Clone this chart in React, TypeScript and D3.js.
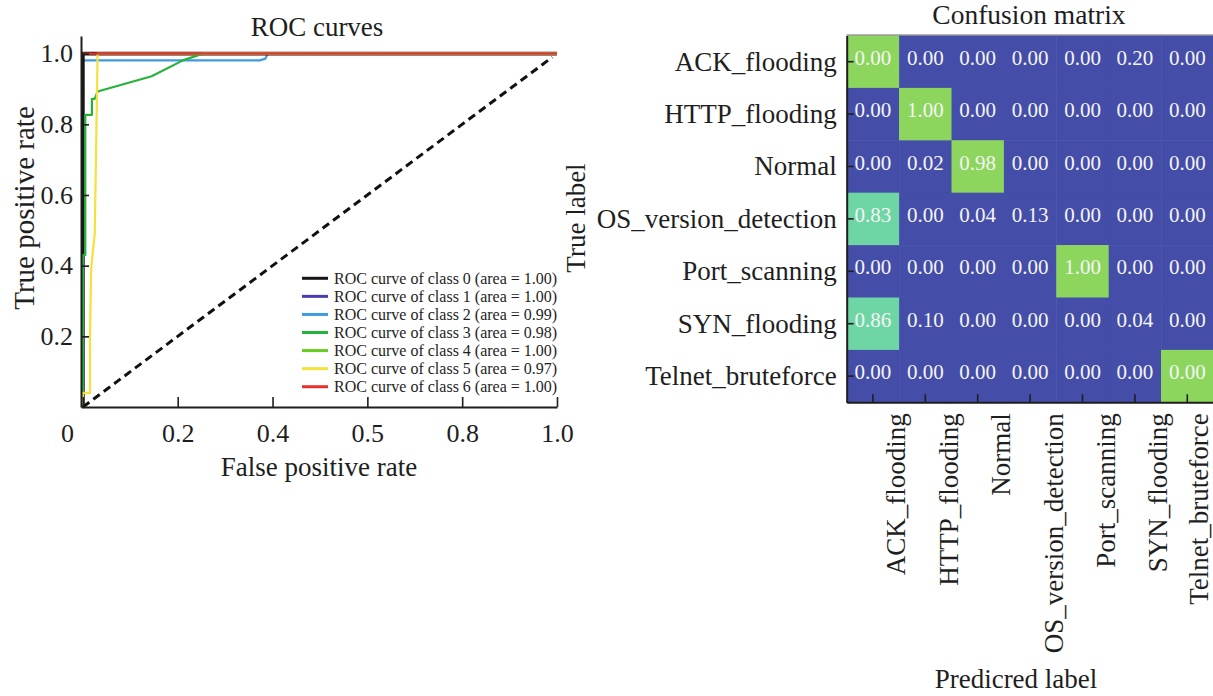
import React, { useEffect, useRef } from "react";
import * as d3 from "d3";

// ROC data: [false positive rate, true positive rate]
const rocClass0 = [[0, 0], [0, 1], [1, 1]];
const rocClass1 = [[0, 0], [0, 1], [1, 1]];
const rocClass2 = [[0, 0], [0, 0.981], [0.373, 0.981], [0.385, 0.986], [0.39, 1], [1, 1]];
const rocClass3 = [
  [0, 0], [0, 0.43], [0.005, 0.43], [0.005, 0.827], [0.019, 0.827], [0.019, 0.872],
  [0.025, 0.872], [0.031, 0.893], [0.145, 0.936], [0.211, 0.981], [0.253, 1], [1, 1]
];
const rocClass4 = [[0, 0], [0, 1], [1, 1]];
const rocClass5 = [
  [0, 0], [0, 0.04], [0.015, 0.04], [0.015, 0.2], [0.017, 0.36], [0.018, 0.4],
  [0.025, 0.49], [0.031, 1], [1, 1]
];
const rocClass6 = [[0, 1], [1, 1]];
const rocCurves = [rocClass0, rocClass1, rocClass2, rocClass3, rocClass4, rocClass5, rocClass6];
const rocAreas = ["1.00", "1.00", "0.99", "0.98", "1.00", "0.97", "1.00"];
const rocColors = ["#151515", "#4a3cb2", "#3e9be0", "#27b23c", "#66cc22", "#f2e23a", "#e8302c"];
const rocDrawOrder = [1, 4, 2, 0, 3, 5, 6];

const rocXTicks = [0, 0.2, 0.4, 0.6, 0.8, 1.0];
const rocXTickLabels = ["0", "0.2", "0.4", "0.5", "0.8", "1.0"];
const rocYTicks = [0.2, 0.4, 0.6, 0.8, 1.0];
const rocYTickLabels = ["0.2", "0.4", "0.6", "0.8", "1.0"];

// confusion matrix
const cmLabels = [
  "ACK_flooding", "HTTP_flooding", "Normal", "OS_version_detection",
  "Port_scanning", "SYN_flooding", "Telnet_bruteforce"
];
const cmValues = [
  [0.0, 0.0, 0.0, 0.0, 0.0, 0.2, 0.0],
  [0.0, 1.0, 0.0, 0.0, 0.0, 0.0, 0.0],
  [0.0, 0.02, 0.98, 0.0, 0.0, 0.0, 0.0],
  [0.83, 0.0, 0.04, 0.13, 0.0, 0.0, 0.0],
  [0.0, 0.0, 0.0, 0.0, 1.0, 0.0, 0.0],
  [0.86, 0.1, 0.0, 0.0, 0.0, 0.04, 0.0],
  [0.0, 0.0, 0.0, 0.0, 0.0, 0.0, 0.0]
];
// value the cell colour was drawn from (differs from the printed text on two cells)
const cmShade = [
  [1.0, 0.0, 0.0, 0.0, 0.0, 0.2, 0.0],
  [0.0, 1.0, 0.0, 0.0, 0.0, 0.0, 0.0],
  [0.0, 0.02, 0.98, 0.0, 0.0, 0.0, 0.0],
  [0.83, 0.0, 0.04, 0.13, 0.0, 0.0, 0.0],
  [0.0, 0.0, 0.0, 0.0, 1.0, 0.0, 0.0],
  [0.86, 0.1, 0.0, 0.0, 0.0, 0.04, 0.0],
  [0.0, 0.0, 0.0, 0.0, 0.0, 0.0, 1.0]
];

const W = 1213;
const H = 696;
const FONT = "'Liberation Serif', 'Times New Roman', serif";
const INK = "#1e1e1e";
const FS = 27;

function styleAxis(g: any, size: number) {
  g.attr("font-family", FONT).attr("font-size", size);
  g.select(".domain").attr("stroke", INK).attr("stroke-width", 2);
  g.selectAll(".tick line").attr("stroke", INK).attr("stroke-width", 1.6);
  g.selectAll(".tick text").attr("fill", INK);
}

export default function App() {
  const ref = useRef<SVGSVGElement>(null);

  useEffect(() => {
    const svg = d3.select(ref.current);
    svg.selectAll("*").remove();

    // ---------- ROC curves ----------
    const x = d3.scaleLinear().domain([-0.004, 1]).range([81, 557]);
    const y = d3.scaleLinear().domain([0, 1.05]).range([407, 36]);
    const line = d3
      .line<number[]>()
      .x(d => x(d[0]))
      .y(d => y(d[1]));

    const roc = svg.append("g");

    rocDrawOrder.forEach(i => {
      roc
        .append("path")
        .datum(rocCurves[i])
        .attr("d", line)
        .attr("fill", "none")
        .attr("stroke", rocColors[i])
        .attr("stroke-width", i === 0 ? 3.6 : 2.2)
        .attr("stroke-linejoin", "round");
    });

    roc
      .append("path")
      .datum([[0, 0], [0.99, 0.99]])
      .attr("d", line)
      .attr("fill", "none")
      .attr("stroke", "#111")
      .attr("stroke-width", 3)
      .attr("stroke-dasharray", "8,5");

    const gx = roc
      .append("g")
      .attr("transform", `translate(0,${y(0)})`)
      .call(
        d3
          .axisBottom(x)
          .tickValues(rocXTicks)
          .tickFormat((d, i) => rocXTickLabels[i])
          .tickSizeInner(-10)
          .tickSizeOuter(0)
      );
    styleAxis(gx, 26);
    gx.selectAll(".tick text")
      .attr("y", 35)
      .attr("dy", 0)
      .attr("dx", (d: any, i: number) => (i === 0 ? -16 : 0));

    const gy = roc
      .append("g")
      .attr("transform", "translate(81,0)")
      .call(
        d3
          .axisLeft(y)
          .tickValues(rocYTicks)
          .tickFormat((d, i) => rocYTickLabels[i])
          .tickSizeInner(-8)
          .tickSizeOuter(0)
          .tickPadding(8)
      );
    styleAxis(gy, 26);

    roc
      .append("text")
      .attr("x", 317)
      .attr("y", 36)
      .attr("text-anchor", "middle")
      .attr("font-family", FONT)
      .attr("font-size", FS)
      .attr("fill", INK)
      .text("ROC curves");

    roc
      .append("text")
      .attr("x", 319)
      .attr("y", 476)
      .attr("text-anchor", "middle")
      .attr("font-family", FONT)
      .attr("font-size", FS)
      .attr("fill", INK)
      .text("False positive rate");

    roc
      .append("text")
      .attr("transform", "translate(24,208) rotate(-90)")
      .attr("dy", "0.35em")
      .attr("text-anchor", "middle")
      .attr("font-family", FONT)
      .attr("font-size", 29)
      .attr("fill", INK)
      .text("True positive rate");

    // legend
    const legend = roc.append("g");
    rocCurves.forEach((c, i) => {
      const ly = 278.3 + i * 18.07;
      legend
        .append("line")
        .attr("x1", 302)
        .attr("x2", 328)
        .attr("y1", ly)
        .attr("y2", ly)
        .attr("stroke", rocColors[i])
        .attr("stroke-width", 3);
      legend
        .append("text")
        .attr("x", 334)
        .attr("y", ly + 5.5)
        .attr("font-family", FONT)
        .attr("font-size", 16)
        .attr("fill", INK)
        .text(`ROC curve of class ${i} (area = ${rocAreas[i]})`);
    });

    // ---------- Confusion matrix ----------
    const cx = d3.scaleBand().domain(cmLabels).range([846.7, 1213.5]);
    const cy = d3.scaleBand().domain(cmLabels).range([35.5, 402.3]);
    const color = d3
      .scaleThreshold<number, string>()
      .domain([0.5, 0.95])
      .range(["#444ea8", "#6ed6a5", "#8dd65e"]);

    const cm = svg.append("g");

    cmLabels.forEach((rowName, r) => {
      cmLabels.forEach((colName, c) => {
        cm.append("rect")
          .attr("x", cx(colName))
          .attr("y", cy(rowName))
          .attr("width", cx.bandwidth() + 0.5)
          .attr("height", cy.bandwidth() + 0.5)
          .attr("fill", color(cmShade[r][c]));
        cm.append("text")
          .attr("x", cx(colName) + cx.bandwidth() / 2)
          .attr("y", cy(rowName) + cy.bandwidth() / 2 + 3)
          .attr("text-anchor", "middle")
          .attr("font-family", FONT)
          .attr("font-size", 21)
          .attr("fill", "#f4f4f4")
          .text(cmValues[r][c].toFixed(2));
      });
    });

    cm.append("line")
      .attr("x1", 846.7)
      .attr("x2", W)
      .attr("y1", 35)
      .attr("y2", 35)
      .attr("stroke", "#666")
      .attr("stroke-width", 1);

    const cgy = cm
      .append("g")
      .attr("transform", "translate(846.7,0)")
      .call(d3.axisLeft(cy).tickSizeInner(-7).tickSizeOuter(0).tickPadding(10));
    styleAxis(cgy, FS);
    cgy.selectAll(".tick text").attr("dy", "0.33em");

    const cgx = cm
      .append("g")
      .attr("transform", "translate(0,402.3)")
      .call(d3.axisBottom(cx).tickSizeInner(-8).tickSizeOuter(0));
    styleAxis(cgx, FS);
    cgx.selectAll(".tick text")
      .attr("x", 0)
      .attr("y", 0)
      .attr("dy", "0.35em")
      .attr("text-anchor", "end")
      .attr("transform", (d: any) => {
        const center = (cx(d) || 0) + cx.bandwidth() / 2;
        const off = Math.min(23, W - 14 - center);
        return `translate(${off},11) rotate(-90)`;
      });

    cm.append("text")
      .attr("x", 1029)
      .attr("y", 24)
      .attr("text-anchor", "middle")
      .attr("font-family", FONT)
      .attr("font-size", 27.5)
      .attr("fill", INK)
      .text("Confusion matrix");

    cm.append("text")
      .attr("x", 1016)
      .attr("y", 688)
      .attr("text-anchor", "middle")
      .attr("font-family", FONT)
      .attr("font-size", FS)
      .attr("fill", INK)
      .text("Predicred label");

    cm.append("text")
      .attr("transform", "translate(576,218) rotate(-90)")
      .attr("dy", "0.35em")
      .attr("text-anchor", "middle")
      .attr("font-family", FONT)
      .attr("font-size", FS)
      .attr("fill", INK)
      .text("True label");
  }, []);

  return (
    <svg
      ref={ref}
      width={W}
      height={H}
      style={{ position: "absolute", left: 0, top: 0, background: "#fff" }}
    />
  );
}
